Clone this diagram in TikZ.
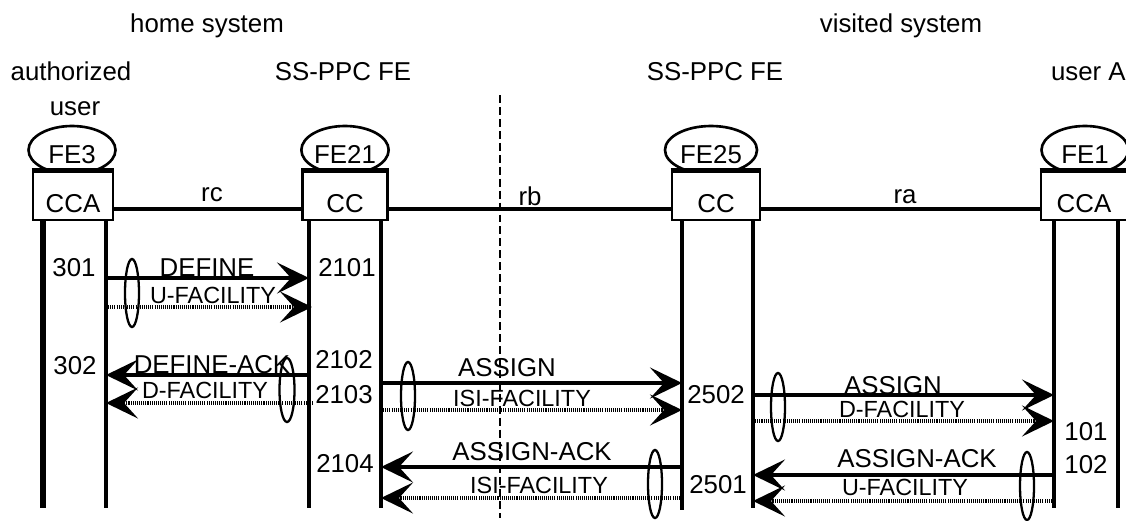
\documentclass[tikz,border=0pt]{standalone}
\usepackage{fontspec}
\setmainfont{Liberation Sans}
\usetikzlibrary{shapes,shapes.geometric,arrows.meta,positioning,calc}
\newcommand{\lblfont}{\fontsize{14.7pt}{16pt}\selectfont}
\newcommand{\facfont}{\fontsize{13.3pt}{15pt}\selectfont}

\begin{document}
\begin{tikzpicture}[x=0.2mm,y=-0.2mm,
  lbl/.style={font=\lblfont, inner sep=0pt, anchor=base},
  fac/.style={font=\facfont, inner sep=0pt, anchor=base},
  fe/.style={ellipse, draw, line width=1.5pt, minimum width=17.4mm,
    minimum height=9.6mm, inner sep=0pt, text height=5.2mm, text depth=0pt,
    font=\lblfont},
  box/.style={rectangle, draw, fill=white, line width=1.5pt,
    minimum height=9.6mm, inner sep=0pt, text height=6.4mm, text depth=0pt,
    font=\lblfont},
  life/.style={line width=2pt},
  link/.style={line width=2pt},
  msg/.style={line width=2pt, -{Stealth[length=6.4mm,width=6.2mm,inset=2.8mm]}},
  dmsg/.style={msg, dash pattern=on 0.6pt off 0.6pt},
  grp/.style={ellipse, draw, line width=1.3pt, minimum width=2.8mm,
    minimum height=13.6mm, inner sep=0pt}
]
\useasboundingbox (0,0) rectangle (1126,520);

% Systems
\node[lbl] (home) at (207,32) {home system};
\node[lbl] (visited) at (901,32) {visited system};
\draw[line width=0.6pt, dash pattern=on 4.5pt off 2.3pt] (500,95) -- (500,518);

% Entities
\node[lbl] (auth) at (71,80) {authorized};
\node[lbl] (authu) at (75,115) {user};
\node[lbl] (ppch) at (343,80) {SS-PPC FE};
\node[lbl] (ppcv) at (715,80) {SS-PPC FE};
\node[lbl, anchor=base east] (usera) at (1126,80) {user A};

% Functional entities
\node[fe] (fe3) at (72,150) {FE3};
\node[fe] (fe21) at (345,150) {FE21};
\node[fe, minimum width=18.4mm] (fe25) at (711,150) {FE25};
\node[fe] (fe1) at (1085,150) {FE1};

\node[box, minimum width=16mm] (cca3) at (73,196) {CCA};
\node[box, minimum width=17mm] (cc21) at (345,196) {CC};
\node[box, minimum width=17.6mm] (cc25) at (716,196) {CC};
\node[box, minimum width=17.2mm] (cca1) at (1084,196) {CCA};
\foreach \b in {cca3,cc21,cc25,cca1}
  \draw[line width=3.2pt] (\b.north west) -- (\b.north east);

% Relationships
\draw[link] ([yshift=-2.6mm]cca3.east) -- ([yshift=-2.6mm]cc21.west);
\draw[link] ([yshift=-2.6mm]cc21.east) -- ([yshift=-2.6mm]cc25.west);
\draw[link] ([yshift=-2.6mm]cc25.east) -- ([yshift=-2.6mm]cca1.west);
\node[lbl] (rc) at (212,201) {rc};
\node[lbl] (rb) at (530,205) {rb};
\node[lbl] (ra) at (905,203) {ra};

% Lifelines
\draw[life, line width=3pt] (43,220) -- (43,508);
\draw[life] (106,220) -- (106,508);
\draw[life] (309,220) -- (309,508);
\draw[life] (381,220) -- (381,508);
\draw[life] (682,220) -- (682,510);
\draw[life] (753,220) -- (753,508);
\draw[life] (1054,220) -- (1054,508);
\draw[life] (1118,220) -- (1118,508);

% DEFINE
\coordinate (d1a) at (106,278);
\coordinate (d1b) at (309,278);
\coordinate (d2a) at (106,307);
\coordinate (d2b) at (312,307);
\draw[msg] (d1a) -- (d1b);
\draw[dmsg] (d2a) -- (d2b);
\node[grp] (g1) at (132,293) {};
\node[lbl] (define) at (207,276) {DEFINE};
\node[fac] (ufac1) at (213,303) {U-FACILITY};
\node[lbl] (n301) at (74,276) {301};
\node[lbl] (n2101) at (347,276) {2101};

% DEFINE-ACK
\coordinate (k1a) at (309,375);
\coordinate (k1b) at (106,375);
\coordinate (k2a) at (313,403);
\coordinate (k2b) at (106,403);
\draw[msg] (k1a) -- (k1b);
\draw[dmsg] (k2a) -- (k2b);
\node[grp, minimum width=3mm, minimum height=12.8mm] (g2) at (287,390) {};
\node[lbl] (defack) at (212,373) {DEFINE-ACK};
\node[fac] (dfac1) at (205,398) {D-FACILITY};
\node[lbl] (n302) at (75,374) {302};
\node[lbl] (n2102) at (344,368) {2102};
\node[lbl] (n2103) at (344,403) {2103};

% ASSIGN (ISI)
\coordinate (a1a) at (381,383);
\coordinate (a1b) at (682,383);
\coordinate (a2a) at (381,410);
\coordinate (a2b) at (682,410);
\draw[msg] (a1a) -- (a1b);
\draw[dmsg] (a2a) -- (a2b);
\node[grp] (g3) at (408,396) {};
\node[lbl] (assign1) at (507,376) {ASSIGN};
\node[fac] (isi1) at (522,406) {ISI-FACILITY};
\node[lbl] (n2502) at (716,403) {2502};

% ASSIGN-ACK (ISI)
\coordinate (b1a) at (682,467);
\coordinate (b1b) at (381,467);
\coordinate (b2a) at (682,498);
\coordinate (b2b) at (381,498);
\draw[msg] (b1a) -- (b1b);
\draw[dmsg] (b2a) -- (b2b);
\node[grp] (g4) at (655,484) {};
\node[lbl] (assack1) at (532,460) {ASSIGN-ACK};
\node[fac] (isi2) at (539,493) {ISI-FACILITY};
\node[lbl] (n2104) at (345,472) {2104};
\node[lbl] (n2501) at (718,493) {2501};

% ASSIGN (D)
\coordinate (c1a) at (753,395);
\coordinate (c1b) at (1054,395);
\coordinate (c2a) at (753,421);
\coordinate (c2b) at (1054,421);
\draw[msg] (c1a) -- (c1b);
\draw[dmsg] (c2a) -- (c2b);
\node[grp] (g5) at (778,407) {};
\node[lbl] (assign2) at (893,394) {ASSIGN};
\node[fac] (dfac2) at (902,417) {D-FACILITY};
\node[lbl] (n101) at (1086,440) {101};

% ASSIGN-ACK (U)
\coordinate (e1a) at (1054,475);
\coordinate (e1b) at (753,475);
\coordinate (e2a) at (1054,501);
\coordinate (e2b) at (753,501);
\draw[msg] (e1a) -- (e1b);
\draw[dmsg] (e2a) -- (e2b);
\node[grp] (g6) at (1027,486) {};
\node[lbl] (assack2) at (917,467) {ASSIGN-ACK};
\node[fac] (ufac2) at (905,495) {U-FACILITY};
\node[lbl] (n102) at (1086,473) {102};
\end{tikzpicture}
\end{document}
